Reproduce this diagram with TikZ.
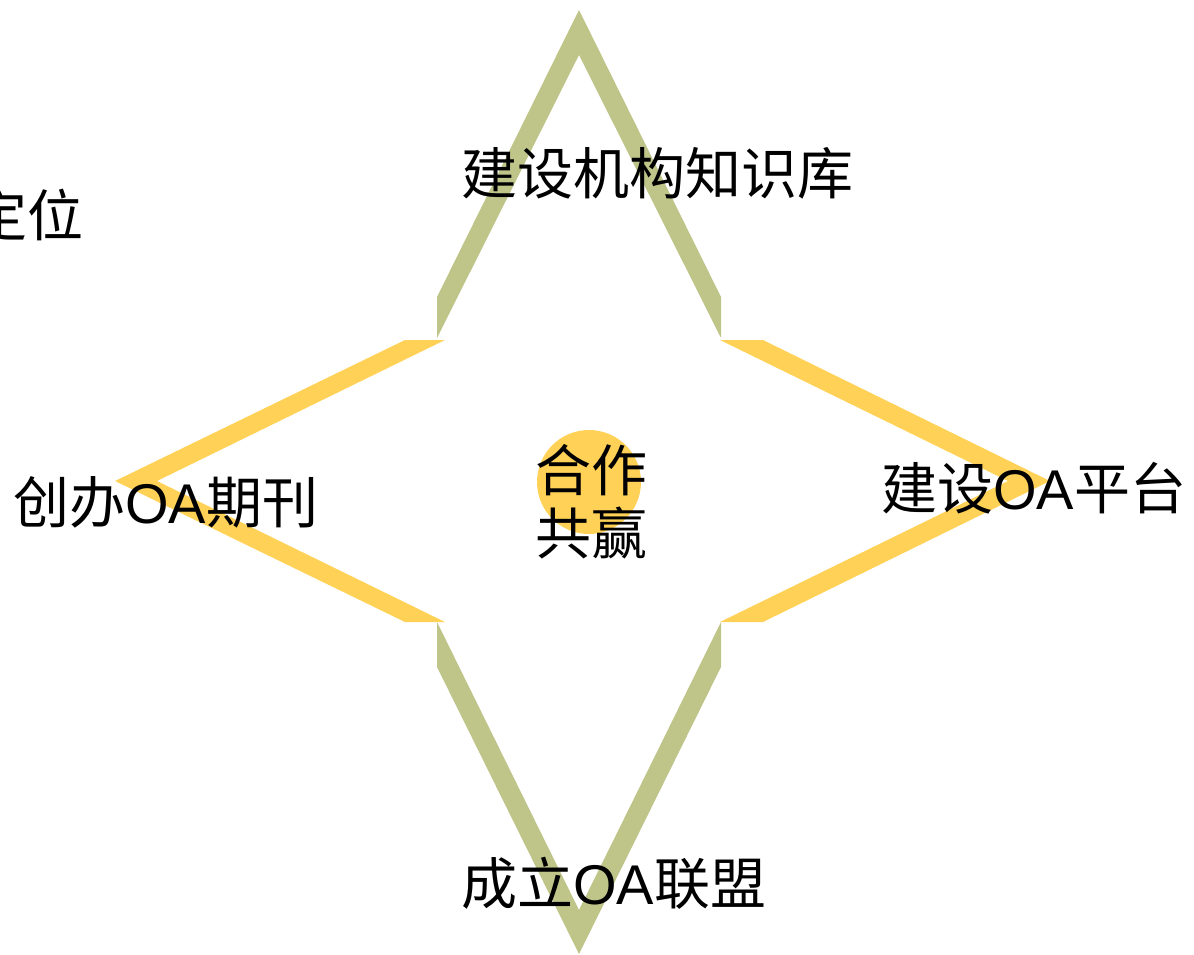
\documentclass[tikz,border=0pt]{standalone}
\usepackage{fontspec}
\setmainfont{Noto Sans CJK SC}
\newfontfamily\latinfont{Liberation Sans}
\usetikzlibrary{calc}
\definecolor{leaf}{RGB}{191,197,137}
\definecolor{sun}{RGB}{255,210,87}
\newcommand{\oa}{{\latinfont OA}}
\begin{document}
\begin{tikzpicture}[x=1pt,y=-1pt]
\tikzstyle{olive}=[fill=leaf]
\tikzstyle{gold}=[fill=sun]
\tikzstyle{lbl}=[inner sep=0pt,font=\fontsize{56}{63}\selectfont]
\useasboundingbox (0,0) rectangle (1194,954);
\fill[olive] (437,338) -- (437,297) -- (579,10) -- (721,297) -- (721,338) -- (579,55) -- cycle;
\fill[olive] (437,622) -- (437,667) -- (579,954) -- (721,667) -- (721,622) -- (579,910) -- cycle;
\fill[gold] (445,340) -- (405,340) -- (115,481) -- (405,622) -- (445,622) -- (157,481) -- cycle;
\fill[gold] (720,340) -- (763,340) -- (1050,481) -- (763,622) -- (720,622) -- (1008,481) -- cycle;
\fill[gold] (589,482) circle (52pt);
\node[lbl,anchor=base west] (kb) at (461,194) {建设机构知识库};
\node[lbl,anchor=base west] (journal) at (13,523) {创办\oa 期刊};
\node[lbl,anchor=base west] (platform) at (881,509) {建设\oa 平台};
\node[lbl,anchor=base west] (league) at (461,904) {成立\oa 联盟};
\node[lbl,anchor=base east] (pos) at (84,236) {定位};
\node[lbl,align=left] (win) at (591,502) {合作\\共赢};
\end{tikzpicture}
\end{document}
